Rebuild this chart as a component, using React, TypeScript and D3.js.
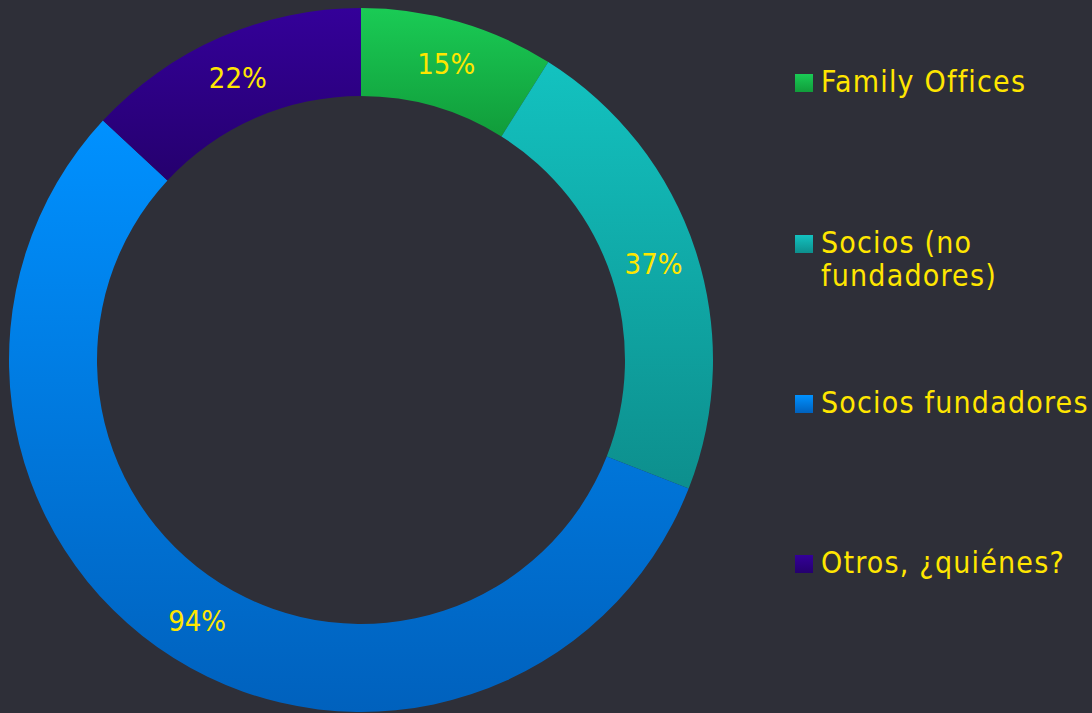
import React from "react";
import * as d3 from "d3";

const categories = ["Family Offices", "Socios (no fundadores)", "Socios fundadores", "Otros, ¿quiénes?"];
const legendLines = [["Family Offices"], ["Socios (no", "fundadores)"], ["Socios fundadores"], ["Otros, ¿quiénes?"]];
const values = [15, 37, 94, 22];
const labels = ["15%", "37%", "94%", "22%"];
const colorsTop = ["#1acb55", "#13c2c0", "#0091ff", "#340099"];
const colorsBottom = ["#119c3a", "#0d8f8d", "#0061bd", "#25006e"];

const W = 1092;
const H = 713;

export default function App() {
  const cx = 361, cy = 360, rOuter = 352, rInner = 264;
  const pie = d3.pie<number>().sort(null).value((d) => d);
  const arcs = pie(values);
  const arc = d3.arc<d3.PieArcDatum<number>>().innerRadius(rInner).outerRadius(rOuter);
  const legendY = [83, 244, 404, 564];
  const font = "'DejaVu Sans Condensed', 'DejaVu Sans', sans-serif";
  return (
    <svg width={W} height={H} style={{ display: "block", position: "absolute", left: 0, top: 0 }}>
      <defs>
        {colorsTop.map((c, i) => (
          <linearGradient key={i} id={`g${i}`} x1="0" y1="0" x2="0" y2="1">
            <stop offset="0" stopColor={c} />
            <stop offset="1" stopColor={colorsBottom[i]} />
          </linearGradient>
        ))}
      </defs>
      <rect x={0} y={0} width={W} height={H} fill="#2e2f38" />
      <g transform={`translate(${cx},${cy})`}>
        {arcs.map((a, i) => (
          <path key={i} d={arc(a) || ""} fill={`url(#g${i})`} />
        ))}
        {arcs.map((a, i) => {
          const [x, y] = arc.centroid(a);
          return (
            <text key={i} x={x} y={y} dy="0.36em" textAnchor="middle" fill="#ffe600" fontFamily={font} fontSize={29}>
              {labels[i]}
            </text>
          );
        })}
      </g>
      {categories.map((c, i) => (
        <g key={c}>
          <rect x={795} y={legendY[i] - 9} width={18} height={18} fill={`url(#g${i})`} />
          {legendLines[i].map((ln, j) => (
            <text key={j} x={821} y={legendY[i] + 9 + j * 33} fill="#ffe600" fontFamily={font} fontSize={30} letterSpacing={1.2}>
              {ln}
            </text>
          ))}
        </g>
      ))}
    </svg>
  );
}
